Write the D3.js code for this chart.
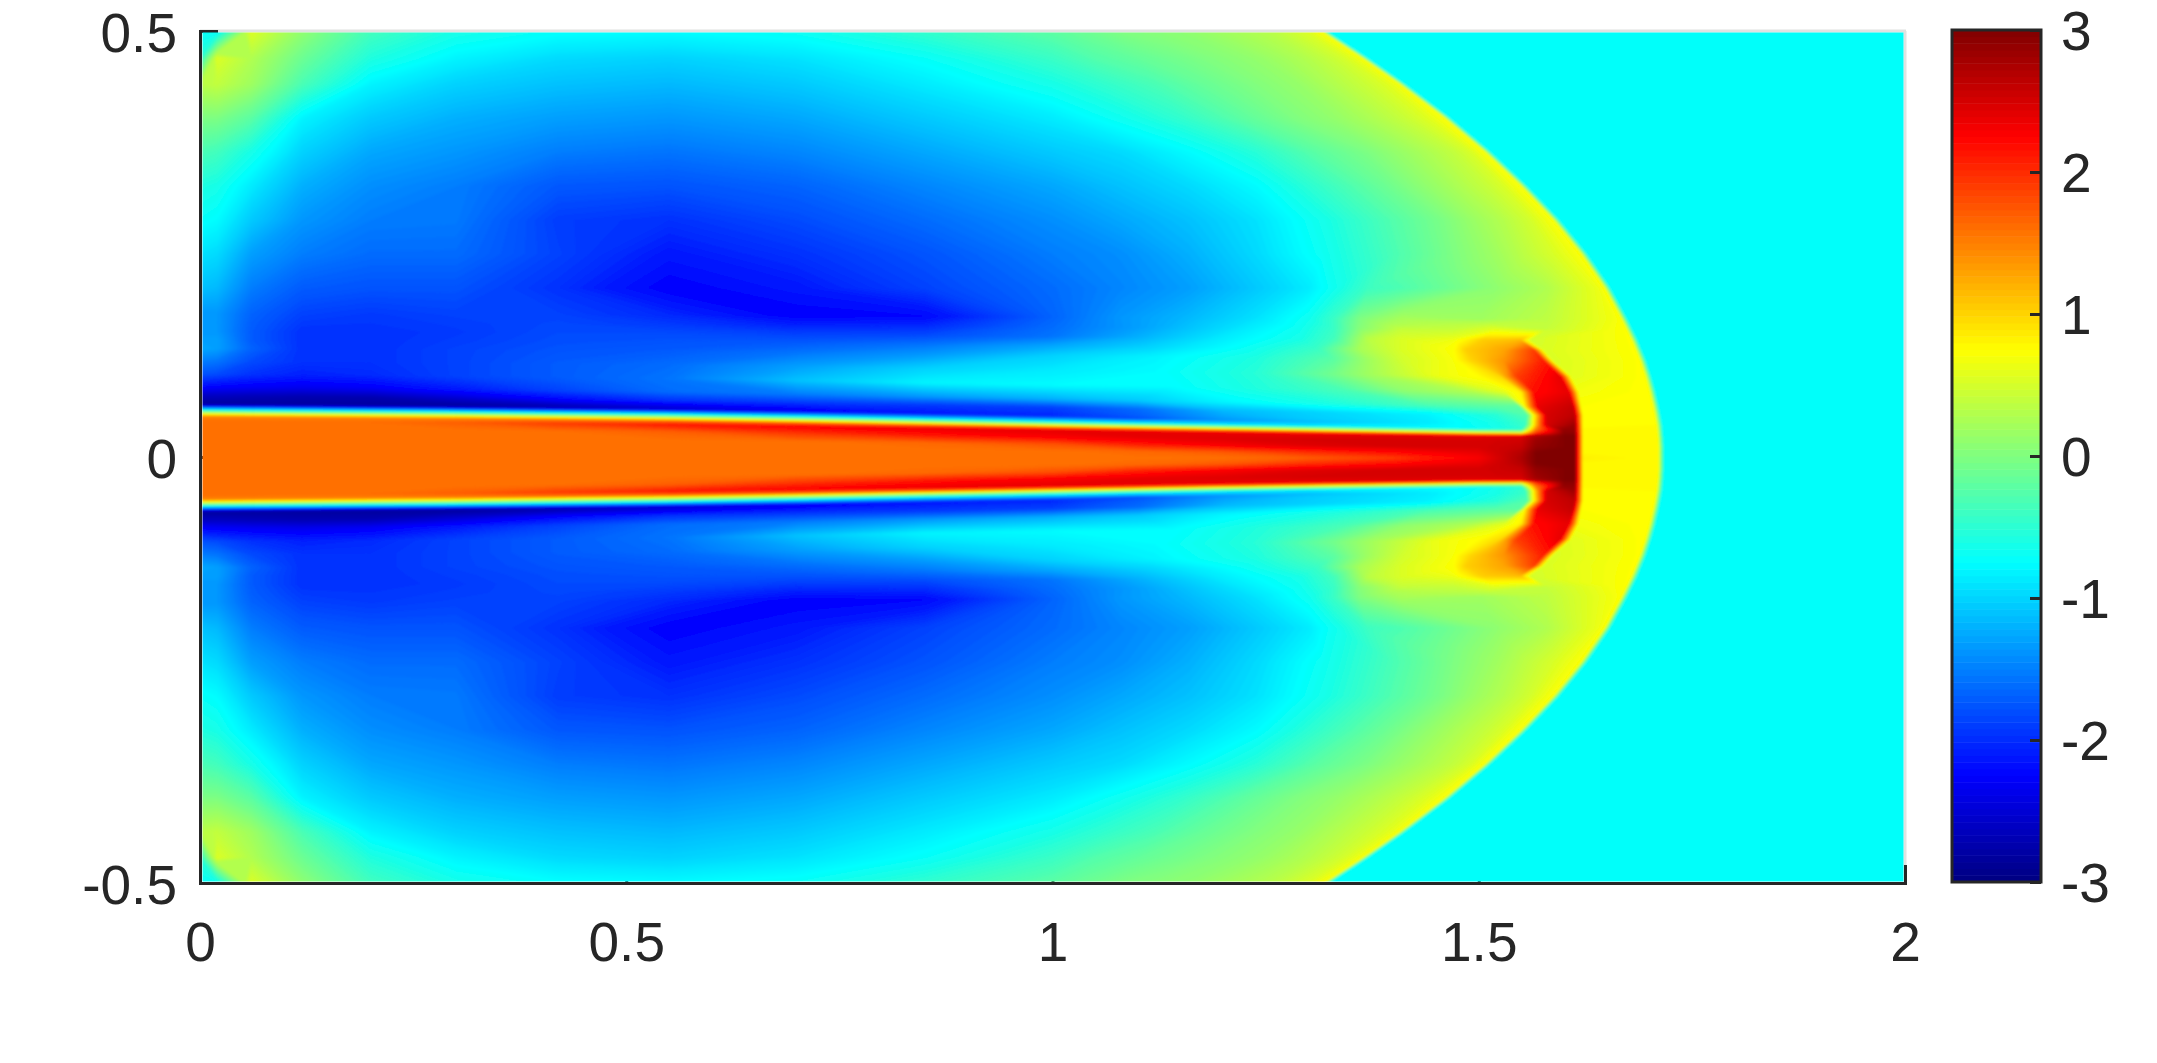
<!DOCTYPE html>
<html lang="en">
<head>
  <meta charset="UTF-8">
  <title>Jet density map</title>
  <script src="https://cdn.jsdelivr.net/npm/d3@7"></script>
  <style>
    html, body { margin: 0; padding: 0; background: #fff; }
    text { font-family: "Liberation Sans", Arial, sans-serif; font-size: 55px; fill: #262626; }
  </style>
</head>
<body>
<svg id="chart" width="2157" height="1063"></svg>
<script>
// upper half of the field. the lower half is its mirror.
var xTicks = [0, 0.5, 1, 1.5, 2];
var yTicks = [-0.5, 0, 0.5];
var cTicks = [-3, -2, -1, 0, 1, 2, 3];

// row heights (near the jet these follow the jet edge, see edgeX/edgeY)
var rowY = [0.5, 0.47, 0.44, 0.4, 0.36, 0.32, 0.28, 0.24, 0.2, 0.17, 0.16, 0.15, 0.14, 0.13, 0.115, 0.1, 0.085, 0.075, 0.066, 0.0635, 0.058, 0.053, 0.0495, 0.045, 0.036, 0.024, 0.012, 0];

// half width of the jet along x
var edgeX = [0, 0.3, 0.6, 0.9, 1.2, 1.5, 1.6, 2];
var edgeY = [0.0514, 0.049, 0.0455, 0.0395, 0.034, 0.029, 0.028, 0.028];

// columns shared by all rows
var headX = [0, 0.02, 0.06, 0.12, 0.2, 0.3, 0.42, 0.55, 0.7, 0.85, 1];

var headV = [
  [-0.7, -0.7, 0.55, 0.1, -0.35, -0.6, -0.72, -0.75, -0.68, -0.45, -0.2],
  [-0.5, 0.55, 0.3, -0.1, -0.55, -0.8, -0.95, -1, -0.9, -0.7, -0.4],
  [0.35, 0.4, 0.2, -0.3, -0.8, -1, -1.1, -1.15, -1.05, -0.85, -0.6],
  [0, 0, -0.2, -0.8, -1.05, -1.2, -1.3, -1.35, -1.25, -1.05, -0.85],
  [-0.3, -0.35, -0.6, -1, -1.25, -1.35, -1.5, -1.55, -1.45, -1.25, -1.05],
  [-0.55, -0.6, -0.85, -1.2, -1.4, -1.5, -1.72, -1.75, -1.65, -1.45, -1.25],
  [-0.7, -0.75, -1.05, -1.35, -1.5, -1.52, -1.88, -1.95, -1.8, -1.6, -1.4],
  [-0.9, -0.95, -1.3, -1.5, -1.6, -1.6, -1.85, -2.1, -1.95, -1.75, -1.5],
  [-1.1, -1.15, -1.5, -1.7, -1.75, -1.75, -1.95, -2.25, -2.1, -1.85, -1.6],
  [-1.35, -1.35, -1.65, -1.85, -1.9, -1.85, -1.85, -2, -2.25, -2.2, -1.65],
  [-1.35, -1.35, -1.68, -1.9, -1.92, -1.88, -1.82, -1.9, -2.05, -2, -1.6],
  [-1.35, -1.35, -1.7, -1.95, -1.95, -1.9, -1.8, -1.8, -1.85, -1.8, -1.55],
  [-1.3, -1.3, -1.7, -1.95, -1.95, -1.88, -1.78, -1.75, -1.7, -1.55, -1.25],
  [-1.25, -1.3, -1.65, -1.95, -1.95, -1.85, -1.75, -1.7, -1.55, -1.35, -1],
  [-1.5, -1.55, -1.8, -1.95, -1.95, -1.85, -1.7, -1.6, -1.3, -1, -0.85],
  [-1.75, -1.8, -1.95, -2.05, -2, -1.85, -1.7, -1.55, -1.1, -0.8, -0.75],
  [-2.2, -2.25, -2.3, -2.35, -2.3, -2.1, -1.85, -1.6, -1.5, -1.35, -1.2],
  [-2.6, -2.6, -2.65, -2.7, -2.7, -2.5, -2.2, -1.95, -1.9, -1.9, -1.85],
  [-2.8, -2.8, -2.8, -2.8, -2.8, -2.8, -2.7, -2.5, -2.3, -2.1, -2],
  [-2.6, -2.6, -2.6, -2.6, -2.6, -2.6, -2.5, -2.4, -2.2, -2, -1.9],
  [-0.8, -0.8, -0.8, -0.8, -0.8, -0.8, -0.8, -0.8, -0.8, -0.8, -0.8],
  [0.7, 0.7, 0.7, 0.7, 0.7, 0.7, 0.7, 0.7, 0.7, 0.7, 0.7],
  [1.5, 1.5, 1.5, 1.5, 1.5, 1.5, 1.55, 1.6, 1.65, 1.7, 1.7],
  [1.6, 1.6, 1.6, 1.6, 1.62, 1.7, 1.9, 2.1, 2.25, 2.35, 2.4],
  [1.6, 1.6, 1.6, 1.6, 1.6, 1.6, 1.62, 1.7, 1.95, 2.15, 2.3],
  [1.6, 1.6, 1.6, 1.6, 1.6, 1.6, 1.6, 1.6, 1.6, 1.65, 1.8],
  [1.6, 1.6, 1.6, 1.6, 1.6, 1.6, 1.6, 1.6, 1.6, 1.6, 1.6],
  [1.6, 1.6, 1.6, 1.6, 1.6, 1.6, 1.6, 1.6, 1.6, 1.6, 1.6]
];

// columns past x=1 change from row to row, so they can sit on the lobe and the cap
var tailX = [
  [1.04, 1.08, 1.12, 1.16, 1.2, 1.23, 1.26, 1.28, 1.3, 1.31],
  [1.05, 1.1, 1.15, 1.2, 1.24, 1.27, 1.3, 1.32, 1.34, 1.355],
  [1.06, 1.12, 1.18, 1.24, 1.29, 1.32, 1.35, 1.37, 1.39, 1.4],
  [1.08, 1.15, 1.22, 1.28, 1.33, 1.37, 1.4, 1.42, 1.44, 1.45],
  [1.08, 1.16, 1.24, 1.31, 1.37, 1.41, 1.44, 1.47, 1.49, 1.5],
  [1.08, 1.16, 1.24, 1.32, 1.39, 1.44, 1.48, 1.51, 1.53, 1.54],
  [1.08, 1.16, 1.24, 1.32, 1.4, 1.46, 1.5, 1.53, 1.56, 1.578],
  [1.08, 1.16, 1.24, 1.32, 1.4, 1.47, 1.52, 1.56, 1.59, 1.61],
  [1.08, 1.16, 1.24, 1.3, 1.33, 1.37, 1.41, 1.52, 1.58, 1.64],
  [1.08, 1.16, 1.24, 1.3, 1.33, 1.36, 1.41, 1.5, 1.58, 1.66],
  [1.1, 1.2, 1.29, 1.33, 1.36, 1.41, 1.47, 1.52, 1.58, 1.66],
  [1.1, 1.2, 1.29, 1.33, 1.37, 1.41, 1.47, 1.505, 1.548, 1.56],
  [1.11, 1.22, 1.31, 1.36, 1.41, 1.47, 1.485, 1.53, 1.565, 1.576],
  [1.12, 1.24, 1.33, 1.37, 1.41, 1.47, 1.49, 1.53, 1.576, 1.587],
  [1.12, 1.24, 1.33, 1.37, 1.45, 1.5, 1.525, 1.545, 1.595, 1.608],
  [1.14, 1.26, 1.34, 1.41, 1.49, 1.53, 1.55, 1.565, 1.605, 1.617],
  [1.1, 1.2, 1.34, 1.44, 1.52, 1.548, 1.556, 1.57, 1.61, 1.62],
  [1.1, 1.2, 1.3, 1.44, 1.52, 1.557, 1.567, 1.58, 1.612, 1.622],
  [1.1, 1.2, 1.3, 1.44, 1.52, 1.555, 1.568, 1.58, 1.612, 1.622],
  [1.1, 1.2, 1.3, 1.44, 1.52, 1.555, 1.568, 1.58, 1.612, 1.622],
  [1.1, 1.2, 1.3, 1.4, 1.5, 1.55, 1.567, 1.6, 1.612, 1.622],
  [1.1, 1.2, 1.3, 1.4, 1.5, 1.55, 1.567, 1.6, 1.612, 1.622],
  [1.1, 1.2, 1.3, 1.4, 1.5, 1.55, 1.567, 1.6, 1.612, 1.622],
  [1.1, 1.2, 1.3, 1.4, 1.5, 1.55, 1.567, 1.6, 1.612, 1.622],
  [1.1, 1.2, 1.3, 1.4, 1.5, 1.55, 1.567, 1.6, 1.612, 1.622],
  [1.1, 1.2, 1.3, 1.4, 1.5, 1.55, 1.567, 1.6, 1.612, 1.622],
  [1.1, 1.2, 1.3, 1.4, 1.5, 1.55, 1.567, 1.6, 1.612, 1.622],
  [1.1, 1.2, 1.3, 1.4, 1.5, 1.55, 1.567, 1.6, 1.612, 1.622]
];

var tailV = [
  [-0.1, 0, 0.05, 0.1, 0.2, 0.27, 0.35, 0.45, 0.55, 0.65],
  [-0.25, -0.15, -0.05, 0.05, 0.13, 0.22, 0.32, 0.4, 0.5, 0.62],
  [-0.45, -0.3, -0.12, 0.03, 0.15, 0.27, 0.38, 0.46, 0.56, 0.64],
  [-0.65, -0.45, -0.2, 0, 0.13, 0.27, 0.38, 0.47, 0.58, 0.66],
  [-0.95, -0.75, -0.5, -0.2, 0, 0.16, 0.28, 0.4, 0.53, 0.65],
  [-1.1, -0.95, -0.75, -0.4, -0.1, 0.12, 0.3, 0.43, 0.55, 0.66],
  [-1.25, -1.1, -0.9, -0.6, -0.25, 0, 0.2, 0.33, 0.5, 0.66],
  [-1.4, -1.2, -0.95, -0.65, -0.3, 0, 0.2, 0.4, 0.55, 0.68],
  [-1.45, -1.3, -1.05, -0.85, -0.65, -0.38, -0.28, 0.1, 0.3, 0.65],
  [-1.35, -1.15, -0.9, -0.65, -0.4, 0, 0.25, 0.2, 0.38, 0.7],
  [-1.3, -0.95, -0.65, -0.4, 0.05, 0.42, 0.42, 0.6, 0.42, 0.72],
  [-1.2, -0.85, -0.6, -0.35, 0.35, 0.55, 0.65, 1.05, 1.15, 0.5],
  [-1, -0.7, -0.4, 0.25, 0.55, 0.75, 1.05, 1.3, 1.9, 0.55],
  [-0.8, -0.55, -0.2, 0.2, 0.5, 0.72, 1, 1.4, 2.1, 0.55],
  [-0.75, -0.5, -0.05, 0.2, 0.65, 0.78, 1, 1.9, 2.4, 0.6],
  [-0.75, -0.5, -0.3, 0.1, 0.3, 0.6, 0.85, 2.2, 2.4, 0.7],
  [-1.05, -0.8, -0.55, -0.3, -0.2, -0.2, 1, 2.4, 2.6, 0.75],
  [-1.6, -1.15, -1, -0.8, -0.5, -0.25, 1, 2.5, 2.65, 0.75],
  [-1.7, -1.3, -1.05, -0.85, -0.6, -0.4, 1.2, 2.5, 2.8, 0.75],
  [-1.8, -1.4, -1.15, -0.85, -0.6, -0.4, 1.2, 2.5, 2.85, 0.75],
  [-0.85, -0.85, -0.85, -0.8, -0.7, -0.5, 1.5, 2.9, 2.9, 0.8],
  [0.7, 0.7, 0.7, 0.7, 0.7, 0.7, 2, 2.95, 2.95, 0.8],
  [1.7, 1.7, 1.7, 1.7, 1.75, 1.9, 2.6, 3, 3, 0.8],
  [2.4, 2.4, 2.4, 2.45, 2.45, 2.5, 2.8, 3, 3, 0.8],
  [2.4, 2.45, 2.5, 2.5, 2.5, 2.55, 2.85, 3, 3, 0.8],
  [2.1, 2.3, 2.45, 2.5, 2.5, 2.6, 2.9, 3, 3, 0.8],
  [1.65, 1.75, 2, 2.2, 2.4, 2.7, 3, 3, 3, 0.8],
  [1.6, 1.6, 1.7, 1.9, 2.3, 2.75, 3, 3, 3, 0.85]
];

// bow shock position per row, and the value just behind it
var shockX = [1.3195, 1.365, 1.408, 1.461, 1.5085, 1.551, 1.589, 1.6216, 1.649, 1.669, 1.675, 1.681, 1.686, 1.691, 1.697, 1.702, 1.706, 1.708, 1.7095, 1.71, 1.7105, 1.711, 1.711, 1.7115, 1.7115, 1.712, 1.712, 1.712];
var shockV = [0.72, 0.72, 0.72, 0.74, 0.74, 0.74, 0.74, 0.74, 0.75, 0.75, 0.755, 0.76, 0.76, 0.76, 0.77, 0.77, 0.78, 0.78, 0.78, 0.78, 0.78, 0.78, 0.78, 0.78, 0.78, 0.78, 0.78, 0.78];
var ambient = -0.7;

var plot = {left: 200, right: 1905, top: 31, bottom: 883};
var bar = {left: 1952, right: 2041, top: 30, bottom: 882};

var x = d3.scaleLinear().domain([0, 2]).range([plot.left, plot.right]);
var y = d3.scaleLinear().domain([-0.5, 0.5]).range([plot.bottom, plot.top]);
var yImage = d3.scaleLinear().domain([-0.5, 0.5]).range([plot.bottom, plot.top + 2]); // image starts under the top line
var c = d3.scaleLinear().domain([-3, 3]).range([bar.bottom, bar.top]);

var jet = d3.scaleLinear()
    .domain([-3, -2.25, -0.75, 0.75, 2.25, 3])
    .range(["#000080", "#0000ff", "#00ffff", "#ffff00", "#ff0000", "#800000"]);

var edge = d3.scaleLinear().domain(edgeX).range(edgeY);

var svg = d3.select("#chart");

// build the full grid, top row first, mirrored about y=0
var half = rowY.length;
var rowOrder = d3.range(half).concat(d3.range(half - 2, -1, -1));
var sign = rowOrder.map(function(r, j) { return j < half ? 1 : -1; });
var gridX = [], values = [];
rowOrder.forEach(function(r) {
    gridX.push(headX.concat(tailX[r], [shockX[r] - 0.002, shockX[r] + 0.005, 2]));
    values = values.concat(headV[r], tailV[r], [shockV[r], ambient, ambient]);
});
var nx = gridX[0].length, ny = rowOrder.length;

// jet edge moves the rows around it, far from the jet they stay put
function warpY(xv, r) {
    var e = edge(xv);
    return d3.scaleLinear().domain([0, 0.053, 0.09, 0.2, 0.5]).range([0, e, e + 0.037, 0.2, 0.5])(r);
}

// d3.contours works in grid index space, this takes it to pixels
var gridToPx = d3.geoTransform({
    point: function(u, v) {
        var i = Math.max(0, Math.min(nx - 1, u - 0.5));
        var j = Math.max(0, Math.min(ny - 1, v - 0.5));
        var i0 = Math.min(nx - 2, Math.floor(i)), j0 = Math.min(ny - 2, Math.floor(j));
        var fi = i - i0, fj = j - j0;
        var xa = gridX[j0][i0] + fi * (gridX[j0][i0 + 1] - gridX[j0][i0]);
        var xb = gridX[j0 + 1][i0] + fi * (gridX[j0 + 1][i0 + 1] - gridX[j0 + 1][i0]);
        var xv = xa + fj * (xb - xa);
        var ya = sign[j0] * warpY(xv, rowY[rowOrder[j0]]);
        var yb = sign[j0 + 1] * warpY(xv, rowY[rowOrder[j0 + 1]]);
        var px = x(xv), py = yImage(ya + fj * (yb - ya));
        // grid border runs a little past the plot so the blur has no soft rim
        if (u < 0.5) px -= 8;
        if (u > nx - 0.5) px += 8;
        if (v < 0.5) py -= 8;
        if (v > ny - 0.5) py += 8;
        this.stream.point(px, py);
    }
});

// axes go first, the image sits on top and hides the inner ticks (as in the original)
var axisColor = "#262626";
svg.append("line").attr("x1", plot.left).attr("x2", plot.right + 1).attr("y1", plot.top).attr("y2", plot.top)
    .attr("stroke", "#e0e2e0").attr("stroke-width", 3);
svg.append("line").attr("x1", plot.right).attr("x2", plot.right).attr("y1", plot.top).attr("y2", plot.bottom)
    .attr("stroke", "#e0e2e0").attr("stroke-width", 3);

function plainLabel(d) { return String(d); }

var xAxis = svg.append("g").attr("transform", "translate(0," + plot.bottom + ")")
    .call(d3.axisBottom(x).tickValues(xTicks).tickSize(-18).tickPadding(39).tickFormat(plainLabel));
var yAxis = svg.append("g").attr("transform", "translate(" + plot.left + ",0)")
    .call(d3.axisLeft(y).tickValues(yTicks).tickSize(-18).tickPadding(23).tickFormat(plainLabel));
[xAxis, yAxis].forEach(function(a) {
    a.attr("font-family", null).attr("font-size", null);
    a.selectAll("path").attr("stroke", axisColor).attr("stroke-width", 3);
    a.selectAll("line").attr("stroke", axisColor).attr("stroke-width", 3);
    a.selectAll("text").attr("fill", axisColor);
});
yAxis.selectAll("text").attr("dy", "0.38em");

// heat map
var defs = svg.append("defs");
defs.append("clipPath").attr("id", "plotClip").append("rect")
    .attr("x", plot.left + 2.5).attr("y", plot.top + 1.5)
    .attr("width", plot.right - plot.left - 4).attr("height", plot.bottom - plot.top - 3);
var blur = defs.append("filter").attr("id", "soft").attr("filterUnits", "userSpaceOnUse")
    .attr("x", plot.left - 20).attr("y", plot.top - 20)
    .attr("width", plot.right - plot.left + 40).attr("height", plot.bottom - plot.top + 40);
blur.append("feGaussianBlur").attr("stdDeviation", 1.2);

var levels = d3.range(-3, 3.001, 0.03);
var bands = d3.contours().size([nx, ny]).thresholds(levels)(values);
var path = d3.geoPath(gridToPx);

svg.append("g").attr("clip-path", "url(#plotClip)")
  .append("g").attr("filter", "url(#soft)")
  .selectAll("path")
  .data(bands)
  .join("path")
    .attr("d", path)
    .attr("fill", function(d) { return jet(d.value); })
    .attr("stroke", function(d) { return jet(d.value); })
    .attr("stroke-width", 0.4);

// colour bar
var barLevels = d3.range(-3, 3, 6 / 128);
svg.append("g").selectAll("rect")
    .data(barLevels)
    .join("rect")
    .attr("x", bar.left)
    .attr("width", bar.right - bar.left)
    .attr("y", function(d) { return c(d + 6 / 128); })
    .attr("height", function(d) { return c(d) - c(d + 6 / 128) + 0.5; })
    .attr("fill", function(d) { return jet(d + 3 / 128); });

var cAxis = svg.append("g").attr("transform", "translate(" + bar.right + ",0)")
    .call(d3.axisRight(c).tickValues(cTicks).tickSize(-11).tickPadding(20).tickFormat(plainLabel));
cAxis.attr("font-family", null).attr("font-size", null);
cAxis.select("path").remove();
cAxis.selectAll("line").attr("stroke", axisColor).attr("stroke-width", 3);
cAxis.selectAll("text").attr("fill", axisColor).attr("dy", "0.36em");
svg.append("rect").attr("x", bar.left).attr("y", bar.top)
    .attr("width", bar.right - bar.left).attr("height", bar.bottom - bar.top)
    .attr("fill", "none").attr("stroke", axisColor).attr("stroke-width", 3);
</script>
</body>
</html>
